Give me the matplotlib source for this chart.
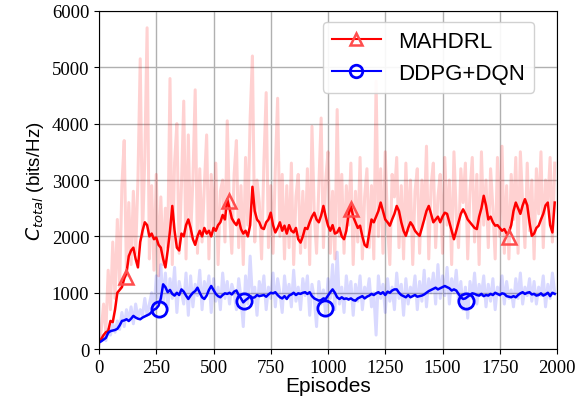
import numpy as np
import matplotlib
matplotlib.use("Agg")
import matplotlib.pyplot as plt

# raw rewards, sampled every 10 episodes
raw_episodes = list(range(0, 2000, 10))
mahdrl_raw = [
    100, 350, 800, 300, 1400, 700, 1900, 900, 2300, 1100,
    2900, 3700, 1300, 2600, 1500, 2800, 1700, 3000, 5150, 2000,
    3400, 5700, 1600, 2900, 1400, 3100, 1300, 2700, 1500, 2500,
    1800, 4800, 1500, 3300, 4000, 1700, 2900, 4400, 1600, 3800,
    2000, 3000, 4600, 1700, 3200, 1900, 2900, 3800, 1600, 3100,
    2100, 3300, 1500, 2800, 3000, 1900, 4050, 2400, 1700, 3100,
    3700, 1800, 2900, 1500, 3400, 2200, 4100, 5200, 1900, 3000,
    2600, 1600, 3300, 4550, 1800, 2900, 1700, 3200, 4450, 2000,
    3100, 1600, 2900, 1800, 3300, 1500, 2700, 3100, 1700, 2800,
    1800, 3200, 1500, 3950, 2400, 1700, 2900, 4100, 1800, 3000,
    3500, 1700, 2800, 1600, 4250, 2000, 3100, 1700, 2900, 2200,
    3300, 1500, 2800, 1900, 3400, 1600, 2700, 3200, 1800, 2900,
    1600, 4750, 2000, 3200, 1700, 3500, 2200, 1500, 3100, 2700,
    3400, 1800, 2900, 1600, 3300, 2100, 3000, 1500, 2800, 3200,
    1700, 3000, 2300, 3600, 1600, 2900, 3300, 1800, 2700, 3100,
    1700, 3400, 2200, 3000, 1500, 3500, 2400, 1800, 3200, 2600,
    3300, 1600, 2800, 3400, 1900, 3100, 1500, 3500, 2200, 3000,
    1800, 3200, 2500, 1600, 3400, 2000, 3600, 1700, 2900, 1600,
    3100, 2300, 3400, 1700, 3500, 2600, 1800, 3300, 2100, 3000,
    1600, 3200, 2400, 3500, 1800, 3000, 2600, 3400, 1900, 3300,
]
ddpg_raw = [
    100, 180, 250, 150, 350, 250, 450, 300, 500, 350,
    650, 400, 700, 500, 750, 450, 800, 550, 700, 600,
    900, 600, 800, 1000, 650, 1300, 900, 1500, 800, 1350,
    700, 1250, 900, 1450, 650, 1200, 1000, 800, 1350, 600,
    1300, 750, 1150, 950, 1400, 700, 1200, 1000, 1300, 650,
    1250, 850, 1100, 700, 1350, 900, 1200, 800, 1150, 1000,
    700, 1250, 900, 400, 1300, 800, 1650, 900, 1100, 600,
    1200, 950, 1300, 700, 1100, 900, 1350, 750, 1250, 1000,
    650, 1300, 900, 1150, 750, 1400, 850, 1100, 700, 1250,
    950, 1300, 600, 1150, 900, 400, 1200, 800, 1050, 600,
    1250, 900, 1500, 700, 1720, 800, 1100, 650, 1300, 900,
    1200, 600, 1150, 850, 1300, 700, 1100, 950, 1250, 750,
    1000, 250, 1300, 900, 1150, 650, 1250, 850, 1100, 700,
    1350, 900, 1150, 600, 1250, 800, 1100, 950, 1300, 700,
    1200, 850, 1400, 750, 1250, 1000, 1350, 800, 1500, 900,
    1300, 950, 1450, 800, 1250, 1000, 1400, 850, 1200, 700,
    1100, 550, 1200, 900, 1350, 800, 1150, 950, 1300, 750,
    1150, 850, 1250, 700, 1100, 950, 1300, 800, 1200, 900,
    1050, 750, 1250, 900, 1350, 800, 1100, 950, 1250, 850,
    1200, 800, 1100, 950, 1300, 750, 1150, 900, 1350, 1000,
]

# smoothed curves
mahdrl_smooth = [
    120, 180, 250, 300, 320, 500, 480, 700, 1000, 1050,
    1100, 1250, 1350, 1650, 1750, 1800, 1600, 1450, 1900, 2100,
    2250, 2200, 2000, 2050, 1950, 1980, 1850, 1800, 1600, 1450,
    1750, 2100, 2540, 2100, 1800, 1750, 2050, 2000, 2200, 2300,
    2150, 1950, 1850, 2000, 2100, 2000, 2150, 2050, 2100, 2000,
    2150, 2100, 2200, 2250, 2380, 2300, 2660, 2500, 2320, 2250,
    2200, 2300, 2130, 2050, 2100, 2000, 2200, 2880, 2450, 2300,
    2250, 2150, 2130, 2250, 2300, 2420, 2200, 2070, 2150, 2250,
    2100, 2190, 2050, 2200, 2100, 2070, 2150, 1950, 1890, 2000,
    2150, 2130, 2250, 2350, 2420, 2300, 2250, 2370, 2540, 2350,
    2190, 2100, 2200, 2050, 2070, 2150, 2000, 1950, 2100, 2400,
    2540, 2350, 2250, 2150, 2190, 2000, 1850, 1810, 2050, 2300,
    2250, 2350, 2450, 2600, 2450, 2300, 2250, 2190, 2300, 2400,
    2540, 2450, 2250, 2100, 2010, 2150, 2250, 2190, 2100, 2050,
    2010, 2150, 2300, 2450, 2540, 2400, 2250, 2300, 2350, 2250,
    2350, 2420, 2400, 2250, 2100, 1950, 2100, 2250, 2400, 2480,
    2400, 2300, 2250, 2200, 2150, 2130, 2350, 2500, 2720, 2550,
    2300, 2350, 2250, 2190, 2200, 2150, 2100, 2130, 2050, 2070,
    2200, 2450, 2600, 2500, 2400, 2550, 2660, 2550, 2250, 2010,
    2050, 2150, 2190, 2300, 2400, 2550, 2600, 2200, 2070, 2600,
]
ddpg_smooth = [
    120, 140, 170, 200, 290, 320, 330, 340, 360, 420,
    500, 510, 530, 500, 540, 590, 560, 540, 530, 560,
    580, 600, 620, 660, 700, 720, 770, 900, 1150, 1100,
    1010, 1050, 980, 950, 1000, 960, 1060, 1020, 950, 890,
    950, 1000, 1030, 1090, 1000, 920, 890, 950, 1050, 1120,
    1050, 980, 940, 920, 960, 990, 980, 1000, 970, 1020,
    1040, 960, 900, 830, 870, 900, 940, 910, 920, 960,
    940, 950, 960, 930, 970, 1000, 990, 1010, 960, 920,
    900, 940, 890, 950, 970, 1000, 960, 990, 980, 1000,
    1010, 980, 1010, 940, 900, 880, 860, 870, 900, 890,
    950, 1010, 1060, 1000, 920, 890, 920, 890, 900, 880,
    900, 870, 860, 900, 920, 940, 900, 930, 950, 980,
    960, 990, 1010, 980, 1010, 960, 1020, 1000, 1040, 1060,
    1060, 1000, 960, 940, 920, 960, 920, 940, 960, 930,
    940, 950, 970, 1000, 1030, 1050, 1070, 1090, 1060, 1080,
    1100, 1120, 1100, 1080, 1040, 1060, 1040, 980, 920, 890,
    900, 930, 960, 990, 980, 960, 950, 980, 940, 960,
    950, 980, 960, 1000, 980, 960, 990, 980, 940, 930,
    920, 940, 920, 960, 990, 1010, 980, 1000, 1010, 970,
    980, 950, 960, 990, 950, 970, 1000, 940, 1000, 980,
]

# marker positions
mahdrl_mark_ep = [118, 568, 1100, 1790]
mahdrl_mark_val = [1280, 2630, 2480, 1990]
ddpg_mark_ep = [262, 633, 987, 1603]
ddpg_mark_val = [710, 850, 730, 850]

fig = plt.figure(figsize=(5.79, 4.10), dpi=100)
ax = fig.add_axes([0.171, 0.146, 0.791, 0.825])

ax.plot(raw_episodes, mahdrl_raw, color="red", alpha=0.18, lw=2.2)
ax.plot(raw_episodes, ddpg_raw, color="blue", alpha=0.15, lw=2.2)
ax.plot(raw_episodes, mahdrl_smooth, color="red", lw=1.8)
ax.plot(raw_episodes, ddpg_smooth, color="blue", lw=1.8)

tri_edge = (1, 0.3, 0.3)
ax.plot(mahdrl_mark_ep, mahdrl_mark_val, ls="none", marker="^", ms=10,
        mfc="none", mec=tri_edge, mew=1.8)
ax.plot(ddpg_mark_ep, ddpg_mark_val, ls="none", marker="o", ms=11,
        mfc="none", mec="blue", mew=2)

# legend handles (line + marker)
h1, = ax.plot([], [], color="red", lw=1.5, marker="^", ms=9, mfc="none",
              mec=tri_edge, mew=1.8, label="MAHDRL")
h2, = ax.plot([], [], color="blue", lw=1.5, marker="o", ms=9, mfc="none",
              mec="blue", mew=2, label="DDPG+DQN")
ax.legend(handles=[h1, h2], loc="upper left", bbox_to_anchor=(0.489, 0.967),
          borderaxespad=0, handlelength=2.2, framealpha=0.9,
          prop={"family": "Liberation Sans", "size": 16})

ax.set_xlim(0, 2000)
ax.set_ylim(0, 6000)
ax.set_xticks(np.arange(0, 2001, 250))
ax.set_yticks(np.arange(0, 6001, 1000))
ax.grid(True, color="#b0b0b0", lw=1)
for lab in ax.get_xticklabels() + ax.get_yticklabels():
    lab.set_family("Liberation Serif")
    lab.set_fontsize(13.5)

ax.set_xlabel("Episodes", family="Liberation Sans", fontsize=15, labelpad=0)
ax.set_ylabel(r"$C_{total}$ (bits/Hz)", family="Liberation Sans", fontsize=13.5)

fig.savefig("out.png", dpi=100)
